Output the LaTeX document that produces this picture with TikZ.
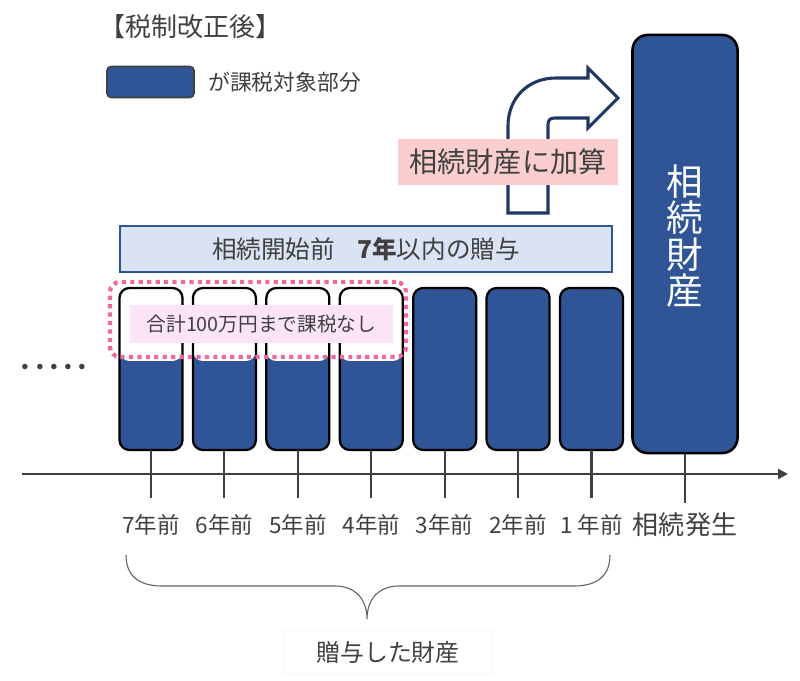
\documentclass[tikz,border=0pt]{standalone}
\usepackage{fontspec}
\setmainfont{Noto Sans CJK JP}
\usetikzlibrary{arrows.meta, positioning, calc}
\definecolor{taxblue}{RGB}{47,85,151}
\definecolor{navyline}{RGB}{32,56,100}
\definecolor{bannerfill}{RGB}{218,227,243}
\definecolor{addpink}{RGB}{250,206,206}
\definecolor{notepink}{RGB}{252,228,248}
\definecolor{dotpink}{RGB}{240,104,156}
\definecolor{txtgray}{RGB}{64,64,64}

\begin{document}
\begin{tikzpicture}[
    x=0.025cm, y=-0.025cm,
    node distance=0.26cm,
    bar/.style={draw=black, line width=1.6pt, rounded corners=0.25cm,
                minimum width=1.575cm, minimum height=4.05cm,
                inner sep=0pt, outer sep=0pt},
    taxed/.style={bar, fill=taxblue},
    halfbar/.style={bar, fill=taxblue,
                path picture={\fill[white] (path picture bounding box.north west)
                  rectangle ([yshift=-1.825cm]path picture bounding box.north east);}},
    bigbox/.style={draw=black, line width=1.8pt, rounded corners=0.38cm,
                   fill=taxblue, minimum width=2.625cm, minimum height=10.45cm},
    yrlbl/.style={font=\fontsize{16}{18}\selectfont, text=txtgray, inner sep=0pt},
    tick/.style={line width=1.5pt, draw=txtgray},
    banner/.style={draw=taxblue, line width=0.9pt, fill=bannerfill,
                   minimum width=12.3cm, minimum height=1.15cm,
                   font=\fontsize{17.5}{19}\selectfont, text=txtgray},
    addbox/.style={fill=addpink, minimum width=5.5cm, minimum height=1.15cm,
                   font=\fontsize{20}{22}\selectfont, text=txtgray},
    freezone/.style={draw=dotpink, line width=3pt, dash pattern=on 3pt off 3pt,
                     rounded corners=0.25cm, minimum width=7.4cm, minimum height=1.875cm},
    notebox/.style={fill=notepink, minimum width=6.575cm, minimum height=0.95cm,
                    font=\fontsize{14}{16}\selectfont, text=txtgray},
    legbox/.style={draw=black!75, line width=1.1pt, fill=taxblue, rounded corners=0.1cm,
                   minimum width=2.175cm, minimum height=0.775cm},
    plain/.style={text=txtgray, inner sep=0pt}
  ]
  \useasboundingbox (0,0) rectangle (800,681);

  % Title and legend
  \node[plain, anchor=west, font=\fontsize{18.5}{20}\selectfont] (title) at (99,27) {【税制改正後】};
  \node[legbox] (leg) at (150.5,82) {};
  \node[plain, right=0.33cm of leg, font=\fontsize{15.5}{17}\selectfont] (legtext) {が課税対象部分};

  % Gifts, 7 years back to 1 year back
  \node[halfbar] (b7) at (151,369) {};
  \node[halfbar, right=of b7] (b6) {};
  \node[halfbar, right=of b6] (b5) {};
  \node[halfbar, right=of b5] (b4) {};
  \node[taxed, right=of b4] (b3) {};
  \node[taxed, right=of b3] (b2) {};
  \node[taxed, right=of b2] (b1) {};
  \node[plain, font=\bfseries\fontsize{14}{14}\selectfont\addfontfeatures{LetterSpace=-28}]
        (more) at (54,369) {・・・・・};

  % Estate at inheritance
  \node[bigbox] (estate) at (685,244) {};
  \node[text=white, align=center, font=\fontsize{26}{26}\selectfont]
        (estatetxt) at ([yshift=0.2cm]estate.center) {相\\続\\財\\産};

  % Time axis
  \coordinate (axstart) at (22,474);
  \coordinate (axend) at (788,474);
  \coordinate (tickend) at (0,498);
  \coordinate (lblrow) at (0,525);
  \draw[line width=1.5pt, draw=txtgray, -{Triangle[length=7pt, width=7pt]}] (axstart) -- (axend);
  \draw[tick] (b7.south) -- (b7.south |- tickend);
  \draw[tick] (b6.south) -- (b6.south |- tickend);
  \draw[tick] (b5.south) -- (b5.south |- tickend);
  \draw[tick] (b4.south) -- (b4.south |- tickend);
  \draw[tick] (b3.south) -- (b3.south |- tickend);
  \draw[tick] (b2.south) -- (b2.south |- tickend);
  \draw[tick] (b1.south) -- (b1.south |- tickend);
  \draw[tick] (estate.south) -- ++(0,49);
  \node[yrlbl] (y7) at (b7.south |- lblrow) {7年前};
  \node[yrlbl] (y6) at (b6.south |- lblrow) {6年前};
  \node[yrlbl] (y5) at (b5.south |- lblrow) {5年前};
  \node[yrlbl] (y4) at (b4.south |- lblrow) {4年前};
  \node[yrlbl] (y3) at (b3.south |- lblrow) {3年前};
  \node[yrlbl] (y2) at (b2.south |- lblrow) {2年前};
  \node[yrlbl] (y1) at (b1.south |- lblrow) {1 年前};
  \node[yrlbl, font=\fontsize{18.5}{20}\selectfont] (yinh) at (estate.south |- lblrow) {相続発生};

  % Tax-free zone
  \node[freezone] (free) at (258,319.5) {};
  \node[notebox] (note) at (261.5,324) {合計100万円まで課税なし};

  % 7-year window
  \node[banner] (within7) at (366,249) {相続開始前\hspace{0.9em}\textbf{7年}以内の贈与};

  % Bent arrow into the estate
  \draw[navyline, line width=2.2pt, fill=white, line join=miter]
    (508,213) -- (508,126) .. controls (508,98) and (528,78) .. (556,78)
    -- (588,78) -- (588,68) -- (618,98) -- (588,128) -- (588,118)
    -- (555,118) .. controls (550,118) and (548,120) .. (548,125) -- (548,213) -- cycle;
  \node[addbox] (addnote) at (508,162) {相続財産に加算};

  % Brace over the gifts
  \draw[line width=0.8pt, draw=black!60]
    (126,555) .. controls (126,575) and (138,586) .. (162,586) -- (335,586)
    .. controls (356,586) and (367,600) .. (367,619)
    .. controls (367,600) and (378,586) .. (399,586) -- (574,586)
    .. controls (598,586) and (610,575) .. (610,555);
  \node[draw=black!4, fill=white, minimum width=5.2cm, minimum height=1.1cm,
        font=\fontsize{17}{19}\selectfont, text=txtgray] (gift) at (388,652) {贈与した財産};
\end{tikzpicture}
\end{document}
